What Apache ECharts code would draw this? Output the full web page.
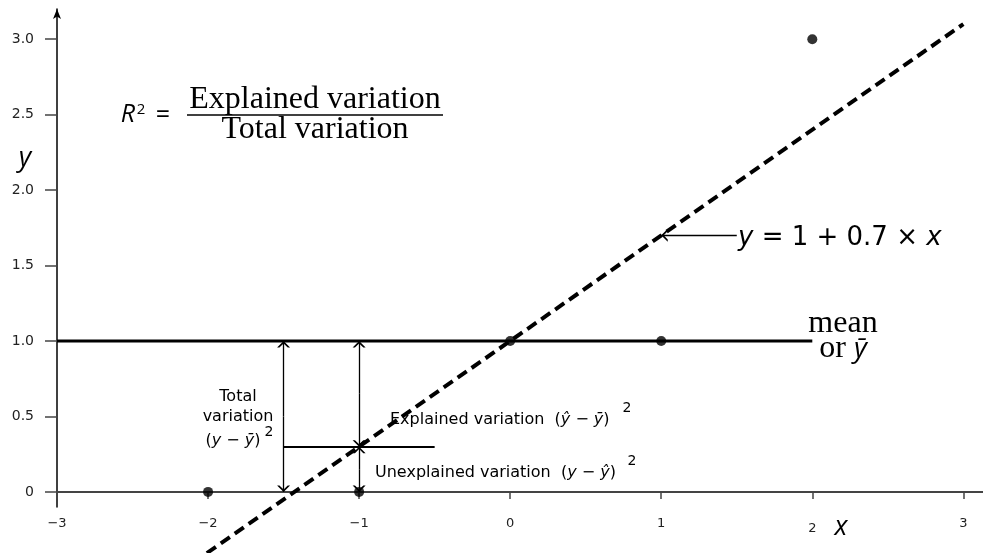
<html>
<head>
<meta charset="utf-8">
<script src="https://cdn.jsdelivr.net/npm/echarts@6/dist/echarts.min.js"></script>
</head>
<body>
<style>
  html, body, #main { width: 100%; height: 100%; margin: 0; background: #fff; }
</style>
<div id="main"></div>
<script>
// observed points
var pointX = [-2, -1, 0, 1, 2];
var pointY = [0, 0, 1, 1, 3];
// mean line (y bar) and fitted line endpoints
var meanX = [-3, 2];
var meanY = [1, 1];
var fitX = [-2.1, 3];
var fitY = [-0.47, 3.1];
// double arrows, each drawn as two halves pointing outward from the middle
var totalArrow = [[[-1.5, 0.5], [-1.5, 1]], [[-1.5, 0.5], [-1.5, 0]]];
var explainedArrow = [[[-1, 0.65], [-1, 1]], [[-1, 0.65], [-1, 0.3]]];
var unexplainedArrow = [[[-1, 0.15], [-1, 0.3]], [[-1, 0.15], [-1, 0]]];
var predictedLevel = [[-1.5, 0.3], [-0.5, 0.3]];
var eqPointer = [[1.5, 1.7], [1, 1.7]];
// ticks
var xTicks = [-3, -2, -1, 0, 1, 2, 3];
var yTicks = [0, 0.5, 1, 1.5, 2, 2.5, 3];

var chart = echarts.init(document.getElementById('main'));

// open chevron, tip sits at the symbol centre so it touches the end point
var arrowHead = 'path://M0,10 L5,0 L10,10 L8.2,10 L5,3.8 L1.8,10 Z M5,-10 L5,-10';
var sans = '"DejaVu Sans"';

function zip(xs, ys) {
  return xs.map(function (x, i) { return [x, ys[i]]; });
}

function txt(x, y, text, font, align, extra) {
  var st = { text: text, font: font, fill: '#000', align: align || 'left', verticalAlign: 'middle' };
  if (extra) for (var k in extra) st[k] = extra[k];
  return { type: 'text', x: x, y: y, z: 1, style: st };
}

var italic16 = { i: { fontStyle: 'italic', fontSize: 16, fontFamily: 'DejaVu Sans' } };

var arrowSegs = totalArrow.concat(explainedArrow, unexplainedArrow, [eqPointer]);

var option = {
  animation: false,
  grid: { left: 57, right: 0, top: 9, bottom: 46 },
  xAxis: {
    type: 'value', min: -3, max: 3.13,
    axisLine: { onZero: true, lineStyle: { color: '#444', width: 2 } },
    axisTick: { customValues: xTicks, length: 7, lineStyle: { color: '#444', width: 1.5 } },
    axisLabel: {
      customValues: xTicks, margin: 10, fontFamily: 'DejaVu Sans', fontSize: 13, color: '#222',
      formatter: function (v) {
        if (v === 2) return '{low|2}';
        return v < 0 ? '\u2212' + Math.abs(v) : String(v);
      },
      rich: { low: { padding: [5, 0, 0, 0], fontFamily: 'DejaVu Sans', fontSize: 13, color: '#222' } }
    },
    splitLine: { show: false }
  },
  yAxis: {
    type: 'value', min: -0.1, max: 3.2,
    axisLine: { onZero: false, symbol: ['none', 'arrow'], symbolSize: [6, 10], lineStyle: { color: '#000', width: 1.5 } },
    axisTick: { customValues: yTicks, length: 12, lineStyle: { color: '#444', width: 1.5 } },
    axisLabel: {
      customValues: yTicks, margin: 23, fontFamily: 'DejaVu Sans', fontSize: 14, color: '#222',
      formatter: function (v) { return v === 0 ? '0' : v.toFixed(1); }
    },
    splitLine: { show: false }
  },
  series: [
    {
      type: 'line', data: zip(meanX, meanY), symbol: 'none',
      lineStyle: { color: '#000', width: 3 }, z: 2
    },
    {
      type: 'lines', coordinateSystem: 'cartesian2d', z: 3,
      symbol: ['none', arrowHead], symbolSize: [6.5, 13],
      lineStyle: { color: '#000', width: 1.3, opacity: 1 },
      data: arrowSegs.map(function (c) { return { coords: c }; })
    },
    {
      type: 'lines', coordinateSystem: 'cartesian2d', z: 3,
      symbol: 'none',
      lineStyle: { color: '#000', width: 1.8, opacity: 1 },
      data: [{ coords: predictedLevel }]
    },
    {
      type: 'line', data: zip(fitX, fitY), symbol: 'none', clip: false,
      lineStyle: { color: '#000', width: 4, type: [11, 6] }, z: 4
    },
    {
      type: 'scatter', data: zip(pointX, pointY), symbolSize: 10,
      itemStyle: { color: '#000' }, z: 5
    }
  ],
  graphic: [
    // R^2 formula
    txt(128, 115, 'R', 'italic 25px "Open Sans"', 'center'),
    txt(141, 110, '2', '15px "Open Sans"', 'center'),
    txt(163, 116, '=', '25px "Open Sans"', 'center'),
    txt(315, 100, 'Explained variation', '32px "Liberation Serif"', 'center'),
    { type: 'line', z: 1, shape: { x1: 187, y1: 115, x2: 443, y2: 115 }, style: { stroke: '#000', lineWidth: 1.5 } },
    txt(315, 130, 'Total variation', '32px "Liberation Serif"', 'center'),
    // axis names
    txt(25, 158, 'y', 'italic 27px "Open Sans"', 'center'),
    txt(841, 527, 'x', 'italic 27px "Open Sans"', 'center'),
    // fitted line equation
    txt(738, 238, '{i|y} = 1 + 0.7 \u00d7 {i|x}', '26px ' + sans, 'left',
      { rich: { i: { fontStyle: 'italic', fontSize: 26, fontFamily: 'DejaVu Sans' } } }),
    // mean label
    txt(843, 324, 'mean', '32px "Liberation Serif"', 'center'),
    txt(843, 349, 'or {i|\u0233}', '32px "Liberation Serif"', 'center',
      { rich: { i: { fontStyle: 'italic', fontSize: 28, fontFamily: 'Open Sans' } } }),
    // total variation
    txt(238, 397, 'Total', '16px ' + sans, 'center'),
    txt(238, 417, 'variation', '16px ' + sans, 'center'),
    txt(233, 441, '({i|y} \u2212 {i|\u0233})', '16px ' + sans, 'center', { rich: italic16 }),
    txt(269, 432, '2', '14px ' + sans, 'center'),
    // explained / unexplained
    txt(390, 420, 'Explained variation  ({i|\u0177} \u2212 {i|\u0233})', '16px ' + sans, 'left', { rich: italic16 }),
    txt(627, 408, '2', '14px ' + sans, 'center'),
    txt(375, 473, 'Unexplained variation  ({i|y} \u2212 {i|\u0177})', '16px ' + sans, 'left', { rich: italic16 }),
    txt(632, 461, '2', '14px ' + sans, 'center')
  ]
};

chart.setOption(option);
window.onresize = chart.resize;
</script>
</body>
</html>
